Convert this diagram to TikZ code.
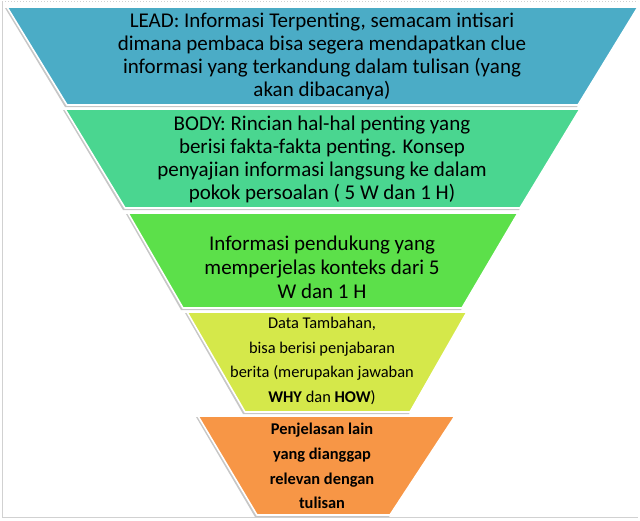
\documentclass[tikz,border=0pt]{standalone}
\usepackage{fontspec}
\setmainfont{Carlito}
\definecolor{leadblue}{HTML}{4BACC6}
\definecolor{bodygreen}{HTML}{4AD690}
\definecolor{infogreen}{HTML}{5CE04A}
\definecolor{datayellow}{HTML}{D5E84A}
\definecolor{restorange}{HTML}{F79646}
\tikzset{
  band/.style={fill=#1,draw=white,line width=1.6pt,line join=round},
  bandshadow/.style={fill=black!22,draw=none},
  bigtext/.style={align=center,font=\fontsize{21}{23}\selectfont,inner sep=0pt},
  smalltext/.style={align=center,font=\fontsize{16.4}{24.7}\selectfont,inner sep=0pt},
}
\begin{document}
\begin{tikzpicture}[x=1pt,y=-1pt]
    \useasboundingbox (0,0) rectangle (640,520);
    \draw[black!18,line width=1pt] (2,1) -- (2,517) -- (638,517);
    \draw[black!18,line width=1pt,dotted] (2,1) -- (638,1);
    % funnel bands
    \foreach \tl/\tr/\ty/\bl/\br/\by/\col in {
        7/638/7/67/578/105/leadblue,
        65/580/109/125/520/208/bodygreen,
        128/518/213/183/462/308/infogreen,
        187/467/312/245/410/412/datayellow,
        198/455/416/257/390/515/restorange} {
      \fill[bandshadow] (\tl-2,\ty+1) -- (\tr-1,\ty+1) -- (\br-1,\by+2) -- (\bl-2,\by+2) -- cycle;
      \draw[band=\col] (\tl,\ty) -- (\tr,\ty) -- (\br,\by) -- (\bl,\by) -- cycle;
    }
    \node[bigtext] (lead) at (322,56) {LEAD: Informasi Terpenting, semacam intisari\\
      dimana pembaca bisa segera mendapatkan clue\\
      informasi yang terkandung dalam tulisan (yang\\ akan dibacanya)};
    \node[bigtext] (body) at (322,159) {BODY: Rincian hal-hal penting yang\\
      berisi fakta-fakta penting. Konsep\\
      penyajian informasi langsung ke dalam\\ pokok persoalan ( 5 W dan 1 H)};
    \node[bigtext,font=\fontsize{21}{24}\selectfont] (info) at (322,267) {Informasi pendukung yang\\
      memperjelas konteks dari 5\\ W dan 1 H};
    \node[smalltext] (data) at (322,361) {Data Tambahan,\\ bisa berisi penjabaran\\
      berita (merupakan jawaban\\ \textbf{WHY} dan \textbf{HOW})};
    \node[smalltext,font=\bfseries\fontsize{16.4}{24.7}\selectfont] (rest) at (322,466) {Penjelasan lain\\
      yang dianggap\\ relevan dengan\\ tulisan};
\end{tikzpicture}
\end{document}
